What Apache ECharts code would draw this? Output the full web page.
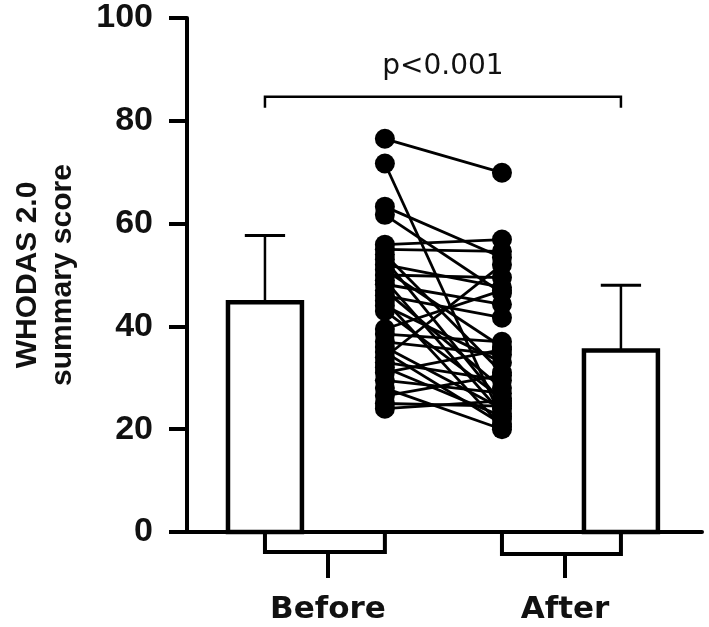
<!DOCTYPE html>
<html>
<head>
<meta charset="utf-8">
<script src="https://cdn.jsdelivr.net/npm/echarts@6/dist/echarts.min.js"></script>
<style>
  html, body { margin: 0; padding: 0; background: #fff; }
  #chart { width: 709px; height: 627px; }
</style>
</head>
<body>
<div id="chart"></div>
<script>
// groups on the x axis
const categories = ['Before', 'After'];
const yTicks = [0, 20, 40, 60, 80, 100];

// bar means and top of error bars
const barMeans = [44.7, 35.3];
const barErrTop = [57.7, 48.0];
// the small boxes hanging under the axis
const baseBoxes = [-3.9, -4.3];

// paired individual scores
const beforeScores = [76.5, 71.7, 63.3, 61.7, 55.9, 55, 54, 53, 52, 51, 50, 49, 48.2, 47, 46, 45,
  44, 43, 39.5, 38.5, 37, 36, 35, 34, 33, 32, 31, 29.5, 28, 26.5, 25, 24];
const afterScores = [69.9, 22, 53.4, 46.5, 56.9, 54.6, 31, 25, 47.6, 36, 49.5, 23, 44.3, 28, 41.7, 20.5,
  33, 26, 47, 37, 34.5, 24, 21, 52, 29.5, 22.5, 35.5, 27, 20, 30.5, 24.5, 25.5];

const pLabel = 'p<0.001';
const bracketY = 84.7;

// layout (x units: Before tick = 1, After tick = 2)
const catPos = [1, 2];
const barX = [0.734, 2.236];
const barW = 0.312;
const capW = 0.17;
const dotX = [1.24, 1.734];

const font = 'Arial, "Liberation Sans", sans-serif';
const wideFont = '"DejaVu Sans", sans-serif';

const pairSeries = beforeScores.map((b, i) => ({
  type: 'line',
  data: [[dotX[0], b], [dotX[1], afterScores[i]]],
  symbol: 'circle',
  symbolSize: 20,
  itemStyle: { color: '#000' },
  lineStyle: { color: '#000', width: 2.8 },
  z: 5,
  silent: true
}));

const barSeries = {
  type: 'custom',
  clip: false,
  z: 3,
  data: barMeans.map((m, i) => [barX[i], m, barErrTop[i]]),
  renderItem: (params, api) => {
    const x = api.value(0), m = api.value(1), e = api.value(2);
    const tl = api.coord([x - barW / 2, m]);
    const br = api.coord([x + barW / 2, 0]);
    const top = api.coord([x, e]);
    const cl = api.coord([x - capW / 2, e]);
    const cr = api.coord([x + capW / 2, e]);
    return {
      type: 'group',
      children: [
        { type: 'line', shape: { x1: top[0], y1: tl[1], x2: top[0], y2: top[1] },
          style: { stroke: '#000', lineWidth: 2.5 } },
        { type: 'line', shape: { x1: cl[0], y1: cl[1], x2: cr[0], y2: cr[1] },
          style: { stroke: '#000', lineWidth: 3 } },
        { type: 'rect', shape: { x: tl[0], y: tl[1], width: br[0] - tl[0], height: br[1] - tl[1] },
          style: { fill: '#fff', stroke: '#000', lineWidth: 4.5 } }
      ]
    };
  }
};

const boxSeries = {
  type: 'custom',
  clip: false,
  z: 3,
  data: baseBoxes.map((v, i) => [i === 0 ? barX[0] : dotX[1], i === 0 ? dotX[0] : barX[1], v]),
  renderItem: (params, api) => {
    const a = api.coord([api.value(0), 0]);
    const b = api.coord([api.value(1), api.value(2)]);
    return {
      type: 'rect',
      shape: { x: a[0], y: a[1], width: b[0] - a[0], height: b[1] - a[1] },
      style: { fill: '#fff', stroke: '#000', lineWidth: 4 }
    };
  }
};

const bracketSeries = {
  type: 'custom',
  clip: false,
  z: 4,
  data: [[barX[0], barX[1], bracketY]],
  renderItem: (params, api) => {
    const l = api.coord([api.value(0), api.value(2)]);
    const r = api.coord([api.value(1), api.value(2)]);
    const tip = 11;
    return {
      type: 'group',
      children: [
        { type: 'polyline', shape: { points: [[l[0], l[1] + tip], l, r, [r[0], r[1] + tip]] },
          style: { stroke: '#000', fill: null, lineWidth: 2.5 } },
        { type: 'text', x: (l[0] + r[0]) / 2, y: l[1] - 16,
          style: { text: pLabel, font: '28px ' + wideFont, fill: '#111', align: 'center', verticalAlign: 'bottom' } }
      ]
    };
  }
};

const chart = echarts.init(document.getElementById('chart'));
chart.setOption({
  backgroundColor: '#fff',
  animation: false,
  grid: { left: 187, right: 7, top: 18, bottom: 95 },
  xAxis: {
    type: 'value',
    min: 1 - 141 / 237,
    max: 2 + 137 / 237,
    splitLine: { show: false },
    axisLine: { lineStyle: { color: '#000', width: 4 } },
    axisTick: { customValues: catPos, length: 46, lineStyle: { color: '#000', width: 4 } },
    axisLabel: {
      customValues: catPos,
      margin: 62,
      formatter: v => categories[catPos.indexOf(v)] || '',
      fontFamily: wideFont, fontWeight: 'bold', fontSize: 31, color: '#111'
    }
  },
  yAxis: {
    type: 'value',
    min: 0,
    max: 100,
    interval: 20,
    name: 'WHODAS 2.0\nsummary score',
    nameLocation: 'middle',
    nameGap: 107,
    nameTextStyle: { fontFamily: font, fontWeight: 'bold', fontSize: 30, color: '#111', lineHeight: 35 },
    splitLine: { show: false },
    axisLine: { show: true, lineStyle: { color: '#000', width: 4 } },
    axisTick: { show: true, length: 18, lineStyle: { color: '#000', width: 4 } },
    axisLabel: {
      margin: 34,
      fontFamily: font, fontWeight: 'bold', fontSize: 34, color: '#111',
      formatter: v => yTicks.includes(v) ? String(v) : ''
    }
  },
  series: [boxSeries, barSeries, bracketSeries].concat(pairSeries)
});
</script>
</body>
</html>
